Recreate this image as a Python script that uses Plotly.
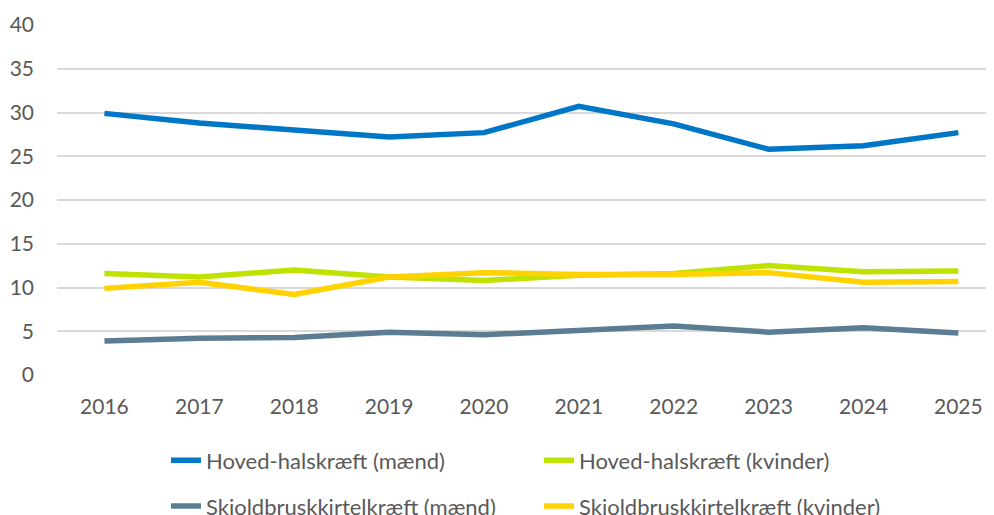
import plotly.graph_objects as go

# Data
years = ["2016", "2017", "2018", "2019", "2020", "2021", "2022", "2023", "2024", "2025"]
hh_maend = [29.9, 28.8, 28.0, 27.2, 27.7, 30.7, 28.7, 25.8, 26.2, 27.7]
hh_kvinder = [11.6, 11.2, 12.0, 11.2, 10.8, 11.4, 11.6, 12.5, 11.8, 11.9]
sk_maend = [3.9, 4.2, 4.3, 4.9, 4.6, 5.1, 5.6, 4.9, 5.4, 4.8]
sk_kvinder = [9.9, 10.6, 9.2, 11.2, 11.7, 11.5, 11.5, 11.7, 10.6, 10.7]

font_fam = "Lato, 'Open Sans', sans-serif"
grey_txt = "#595959"

fig = go.Figure()
series = [
    ("Hoved-halskræft (mænd)", hh_maend, "#0077C6", "legend"),
    ("Hoved-halskræft (kvinder)", hh_kvinder, "#BFE200", "legend"),
    ("Skjoldbruskkirtelkræft (mænd)", sk_maend, "#5B7D94", "legend2"),
    ("Skjoldbruskkirtelkræft (kvinder)", sk_kvinder, "#FFD200", "legend2"),
]
for name, vals, col, leg in series:
    fig.add_trace(go.Scatter(
        x=years, y=vals, name=name, mode="lines",
        line=dict(color=col, width=5.5),
        legend=leg,
    ))

legend_common = dict(
    orientation="h", xanchor="left", yanchor="middle",
    font=dict(family=font_fam, size=22, color=grey_txt),
    entrywidth=328, itemwidth=30, traceorder="normal",
    bgcolor="rgba(0,0,0,0)",
)

# page body adds an 8px offset, so margins are compensated
fig.update_layout(
    width=994, height=515,
    margin=dict(l=49, r=0, t=17, b=147.5, autoexpand=False),
    plot_bgcolor="white", paper_bgcolor="white",
    font=dict(family=font_fam, size=21, color=grey_txt),
    legend=dict(x=0.1153, y=-0.244, **legend_common),
    legend2=dict(x=0.1153, y=-0.375, **legend_common),
    xaxis=dict(
        type="category", range=[-0.5, 9.46],
        showgrid=False, showline=False, zeroline=False,
        ticks="", ticklabelstandoff=17,
        tickfont=dict(family=font_fam, size=21, color=grey_txt),
    ),
    yaxis=dict(
        range=[0, 40], dtick=5,
        showgrid=True, gridcolor="#D9D9D9", gridwidth=1.5,
        zeroline=False, showline=False,
        ticks="", ticklabelstandoff=22,
        tickfont=dict(family=font_fam, size=21, color=grey_txt),
    ),
)

fig.write_html("out.html")
